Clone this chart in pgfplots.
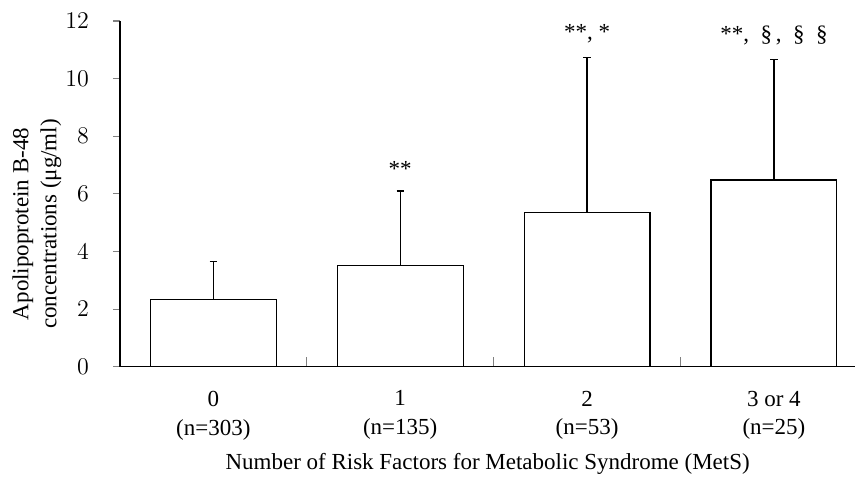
\documentclass[border=0pt]{standalone}
\usepackage{fontspec}
\setmainfont{Liberation Serif}
\usepackage{pgfplots}
\pgfplotsset{compat=1.18}
\usepackage{pgfplotstable}

% x, mean, SD (upper only), significance mark
\pgfplotstableread[col sep=comma]{
x,mean,sd,mark
0,2.33,1.31,{}
1,3.50,2.60,**
2,5.35,5.38,{**, *}
3,6.48,4.19,{**,\enspace§\,,\enspace§\enspace§}
}\apobdata

\begin{document}
\fontsize{11.5}{14.5}\selectfont
\begin{tikzpicture}
\begin{axis}[
  scale only axis,
  width=368pt, height=173pt,
  xmin=-0.5, xmax=3.436,
  ymin=0, ymax=12,
  ytick={0,2,...,12},
  axis x line*=bottom, axis y line*=left,
  axis line style={line width=0.6pt},
  xtick={0,1,2,3},
  major x tick style={draw=none},
  minor xtick={0.5,1.5,2.5},
  minor x tick style={line width=0.6pt},
  minor tick length=5pt,
  xtick align=inside,
  ytick align=outside,
  y tick style={line width=0.6pt},
  major tick length=3.5pt,
  xticklabels={{0\\(n=303)},{1\\(n=135)},{2\\(n=53)},{3 or 4\\(n=25)}},
  xticklabel style={align=center, yshift=-8pt},
  yticklabel style={xshift=-8pt},
  ylabel={Apolipoprotein B-48\\concentrations (μg/ml)},
  ylabel style={align=center, at={(axis description cs:-0.113,0.413)}, anchor=center,
    font=\fontsize{11.5}{14}\selectfont},
  xlabel={Number of Risk Factors for Metabolic Syndrome (MetS)},
  xlabel style={yshift=1pt},
  clip=false,
]
\addplot[ybar, bar width=63pt, bar shift=0pt, draw=black, fill=white, line width=0.6pt,
  error bars/.cd, y dir=plus, y explicit,
  error bar style={line width=0.6pt},
  error mark options={rotate=90, mark size=1.8pt, line width=0.6pt}]
  table[x=x, y=mean, y error=sd] {\apobdata};
\addplot[draw=none, mark=none, nodes near coords, point meta=explicit symbolic,
  nodes near coords style={anchor=south, yshift=3pt, font=\fontsize{11.5}{13}\selectfont}]
  table[x=x, y expr=\thisrow{mean}+\thisrow{sd}, meta=mark] {\apobdata};
\end{axis}
\path (current axis.south west) ++(-60pt,-53.5pt) (current axis.north west) ++(0,10.5pt);
\end{tikzpicture}
\end{document}
